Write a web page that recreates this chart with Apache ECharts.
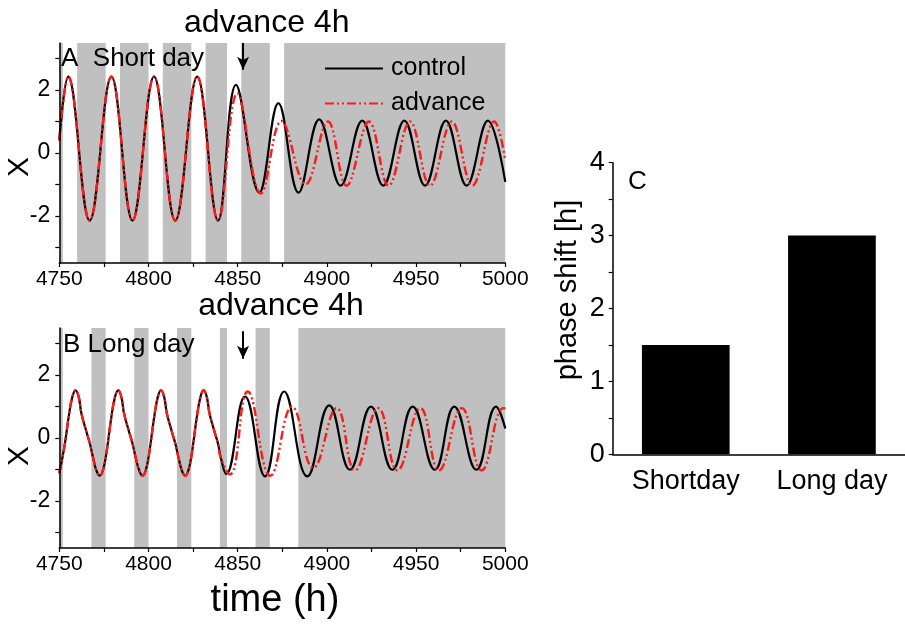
<!DOCTYPE html>
<html><head><meta charset="utf-8">
<script src="https://cdn.jsdelivr.net/npm/echarts@6/dist/echarts.min.js"></script>
<style>html,body{margin:0;padding:0;background:#fff}#c{width:905px;height:625px}</style>
</head><body><div id="c"></div><script>
// ---- data ----
const xTicks = [4750, 4800, 4850, 4900, 4950, 5000];
const xMinorTicks = [4750, 4775, 4800, 4825, 4850, 4875, 4900, 4925, 4950, 4975, 5000];
const yTicks = [-2, 0, 2];
const yMinorTicks = [-3, -2, -1, 0, 1, 2, 3];
const darkA = [[4750,4752],[4760,4776],[4784,4800],[4808,4824],[4832,4844],[4852,4868],[4876,5000]];
const darkB = [[4750,4752],[4768,4776],[4792,4800],[4816,4824],[4840,4844],[4860,4868],[4884,5000]];
const advanceTime = 4853;

// Short day (peaks / troughs)
const commonA = [[4750,0.40],[4755,2.43],[4767,-2.15],[4779.2,2.43],[4791,-2.15],[4803.1,2.43],[4815,-2.15],[4827.3,2.43],[4839,-2.15]];
const ctrlAfterA = [[4849,2.17],[4862.1,-1.26],[4872.8,1.59],[4884.1,-1.26],[4895.7,1.07],[4907.7,-1.04],[4919.8,1.03],[4931.6,-1.04],[4943.4,1.03],[4955,-1.04],[4966.7,1.03],[4978.3,-1.04],[4990.2,1.03],[5000,-0.92]];
const advAfterA = [[4849.8,1.90],[4863,-1.29],[4874.5,1.02],[4888,-1.0],[4900.6,1.0],[4911,-1.04],[4923.6,1.0],[4934.6,-1.04],[4946.6,1.0],[4957.8,-1.04],[4970,1.0],[4981.5,-1.04],[4993.8,1.0],[5000,-0.22]];

// Long day
const commonB = [[4750,-1.12],[4752.8,-0.30],[4755.6,0.80],[4757.3,1.30],[4759.1,1.52],[4760.9,1.30],[4762.4,0.78],[4765.2,0.20],[4767.1,-0.17],[4769,-0.64],[4770.9,-1.05],[4772.7,-1.20],
  [4774.5,-1.02],[4776.4,-0.48],[4779.2,0.67],[4781.2,1.30],[4783,1.52],[4784.8,1.30],[4786.3,0.78],[4789.1,0.20],[4791,-0.17],[4792.9,-0.64],[4794.9,-1.05],[4796.7,-1.20],
  [4798.5,-1.02],[4800.4,-0.48],[4803.2,0.67],[4805.2,1.30],[4807,1.52],[4808.8,1.30],[4810.3,0.78],[4813.1,0.20],[4815,-0.17],[4816.9,-0.64],[4818.8,-1.05],[4820.6,-1.20],
  [4822.4,-1.02],[4824.3,-0.48],[4827.1,0.67],[4829.1,1.30],[4830.9,1.52],[4832.7,1.30],[4834.2,0.78],[4837,0.20],[4838.9,-0.17],[4840.6,-0.64]];
const ctrlAfterB = [[4843.5,-1.15],[4854.1,1.32],[4865.3,-1.22],[4876,1.48],[4889,-1.22],[4901.3,1.04],[4912.9,-1.01],[4924.7,1.0],[4936.7,-1.01],[4948.1,1.0],[4960.5,-1.01],[4971.4,1.0],[4983.8,-1.01],[4994.8,1.0],[5000,0.30]];
const advAfterB = [[4845.7,-1.16],[4855.6,1.48],[4868.3,-1.20],[4880.5,1.0],[4892.3,-0.95],[4905.5,0.95],[4915.7,-1.03],[4928.8,0.95],[4939.5,-1.03],[4952.4,0.95],[4962.8,-1.03],[4975.6,0.95],[4986.7,-1.03],[4998.9,0.95],[5000,0.94]];

const barCategories = ['Shortday', 'Long day'];
const barValues = [1.5, 3.0];
const barTicks = [0, 1, 2, 3, 4];
const barMinorTicks = [0, 0.5, 1, 1.5, 2, 2.5, 3, 3.5, 4];

// ---- chart ----
const FF = '"Liberation Sans", Arial, sans-serif';
const chart = echarts.init(document.getElementById('c'));

function timeAxis(gi) {
  return {type:'value', gridIndex:gi, min:4750, max:5000, z:5,
    axisLine:{show:true, onZero:false, lineStyle:{color:'#000', width:1.5}},
    axisTick:{show:true, length:4, customValues:xMinorTicks, lineStyle:{color:'#000', width:1.2}},
    axisLabel:{customValues:xTicks, formatter:v => String(v), fontSize:21, color:'#000', fontFamily:FF, margin:6},
    splitLine:{show:false}};
}
function xAxisY(gi) {
  return {type:'value', gridIndex:gi, min:-3.5, max:3.5, z:5,
    axisLine:{show:true, onZero:false, lineStyle:{color:'#000', width:1.5}},
    axisTick:{show:true, length:4, customValues:yMinorTicks, lineStyle:{color:'#000', width:1.2}},
    axisLabel:{customValues:yTicks, fontSize:23, color:'#000', fontFamily:FF, margin:9},
    splitLine:{show:false}};
}
function bands(name, gi, dark) {
  return {name:name, type:'line', xAxisIndex:gi, yAxisIndex:gi, data:[], z:1, silent:true,
    markArea:{silent:true, itemStyle:{color:'#c0c0c0', opacity:1},
      data: dark.map(d => [{xAxis:d[0]}, {xAxis:d[1]}])}};
}
function arrow(y0, y1) {
  return {silent:true, symbol:['none','arrow'], symbolSize:[9,13], animation:false,
    lineStyle:{color:'#000', width:2, type:'solid'}, label:{show:false},
    data:[[{coord:[advanceTime, y0]}, {coord:[advanceTime, y1]}]]};
}
const ctrlStyle = {color:'#000', width:2.2, type:'solid'};
const advStyle = {color:'#ff1a1a', width:2.4, type:[9,3,2,3,2,3]};
function line(name, gi, data, style, smooth, extra) {
  return Object.assign({name:name, type:'line', xAxisIndex:gi, yAxisIndex:gi, data:data,
    smooth:smooth, symbol:'none', showSymbol:false, z:3, lineStyle:style, itemStyle:{color:style.color}}, extra || {});
}
function txt(x, y, text, size, opts) {
  return Object.assign({type:'text', x:x, y:y, silent:true, z:50,
    style:Object.assign({text:text, font: size + 'px ' + FF, fill:'#000', textAlign:'left', textVerticalAlign:'middle'}, (opts||{}).style || {})},
    (opts||{}).el || {});
}

chart.setOption({
  animation:false,
  backgroundColor:'#fff',
  grid:[
    {left:59.3, top:43, width:446, height:220},
    {left:59.3, top:328, width:446, height:220},
    {left:612.7, top:162.7, width:295.6, height:291.6}
  ],
  xAxis:[timeAxis(0), timeAxis(1),
    {type:'category', gridIndex:2, data:barCategories, z:5,
      axisLine:{show:true, lineStyle:{color:'#000', width:1.5}}, axisTick:{show:false},
      axisLabel:{fontSize:27, color:'#000', fontFamily:FF, margin:14}}],
  yAxis:[xAxisY(0), xAxisY(1),
    {type:'value', gridIndex:2, min:0, max:4, z:5,
      axisLine:{show:true, lineStyle:{color:'#000', width:1.5}},
      axisTick:{show:true, length:4, customValues:barMinorTicks, lineStyle:{color:'#000', width:1.2}},
      axisLabel:{customValues:barTicks, fontSize:27, color:'#000', fontFamily:FF, margin:8},
      splitLine:{show:false}}],
  legend:{data:['control','advance'], orient:'vertical', left:319, top:51, itemWidth:58, itemHeight:2, itemGap:10,
    selectedMode:false, itemStyle:{opacity:0},
    textStyle:{fontSize:25, color:'#000', fontFamily:FF, padding:[0,0,0,3]}},
  series:[
    bands('darkA', 0, darkA),
    bands('darkB', 1, darkB),
    line('control', 0, commonA.concat(ctrlAfterA), ctrlStyle, 0.4, {markLine:arrow(3.5, 2.65)}),
    line('advance', 0, commonA.concat(advAfterA), advStyle, 0.4),
    line('control', 1, commonB.concat(ctrlAfterB), ctrlStyle, 0.45, {markLine:arrow(3.4, 2.52)}),
    line('advance', 1, commonB.concat(advAfterB), advStyle, 0.45),
    {name:'phase shift', type:'bar', xAxisIndex:2, yAxisIndex:2, data:barValues, barWidth:'60%',
      itemStyle:{color:'#000'}, z:3}
  ],
  graphic:[
    txt(266.7, 23.5, 'advance 4h', 32, {style:{textAlign:'center'}}),
    txt(281, 306, 'advance 4h', 32, {style:{textAlign:'center'}}),
    txt(61, 58.5, 'A  Short day', 26),
    txt(63, 344.5, 'B Long day', 26),
    txt(628, 181.5, 'C', 26),
    txt(20, 167, 'X', 30, {style:{textAlign:'center'}, el:{rotation:Math.PI/2}}),
    txt(20, 456, 'X', 30, {style:{textAlign:'center'}, el:{rotation:Math.PI/2}}),
    txt(275, 601, 'time (h)', 38, {style:{textAlign:'center'}}),
    txt(568, 290, 'phase shift [h]', 29, {style:{textAlign:'center'}, el:{rotation:Math.PI/2}})
  ]
});
</script></body></html>
